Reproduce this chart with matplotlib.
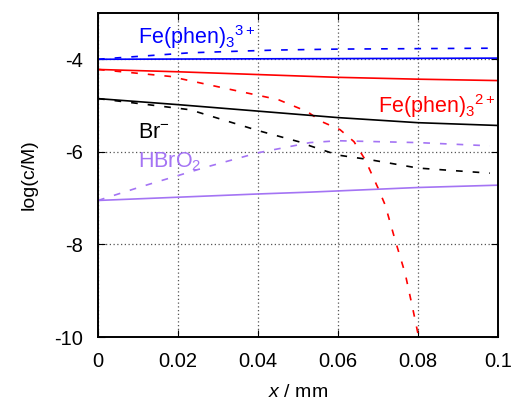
import matplotlib
matplotlib.use("Agg")
import matplotlib.pyplot as plt

plt.rcParams['font.family'] = ['Liberation Sans', 'DejaVu Sans']
plt.rcParams['mathtext.fontset'] = 'custom'
plt.rcParams['mathtext.rm'] = 'Liberation Sans'
plt.rcParams['mathtext.it'] = 'Liberation Sans:italic'
plt.rcParams['axes.unicode_minus'] = False

# values (x in mm, log10 of concentration)
x_fe3_solid = [0, 0.02, 0.04, 0.06, 0.08, 0.1]
fe3_solid = [-4.0, -3.995, -3.99, -3.985, -3.98, -3.975]
x_fe3_dash = [0, 0.003, 0.023, 0.037, 0.045, 0.06, 0.08, 0.1]
fe3_dash = [-4.0, -3.98, -3.86, -3.82, -3.80, -3.78, -3.77, -3.76]

x_fe2_solid = [0, 0.02, 0.04, 0.06, 0.08, 0.1]
fe2_solid = [-4.22, -4.27, -4.33, -4.39, -4.43, -4.46]
x_fe2_dash = [0, 0.018, 0.033, 0.045, 0.0523, 0.056, 0.0605, 0.064, 0.0668,
              0.070, 0.0718, 0.0743, 0.0768, 0.0788, 0.080, 0.0805]
fe2_dash = [-4.22, -4.37, -4.65, -4.87, -5.13, -5.35, -5.52, -5.78, -6.17,
            -6.78, -7.15, -7.91, -8.63, -9.43, -9.93, -10.2]

x_br_solid = [0, 0.02, 0.04, 0.06, 0.08, 0.1]
br_solid = [-4.85, -4.98, -5.12, -5.26, -5.37, -5.43]
x_br_dash = [0, 0.023, 0.037, 0.04, 0.051, 0.053, 0.06, 0.068, 0.08, 0.088, 0.098]
br_dash = [-4.85, -5.09, -5.46, -5.54, -5.80, -5.87, -6.07, -6.17, -6.35, -6.40, -6.46]

x_hbr_solid = [0, 0.02, 0.04, 0.053, 0.08, 0.1]
hbr_solid = [-7.05, -6.98, -6.91, -6.87, -6.77, -6.72]
x_hbr_dash = [0, 0.0105, 0.027, 0.04, 0.053, 0.06, 0.08, 0.098]
hbr_dash = [-7.05, -6.76, -6.33, -6.02, -5.80, -5.76, -5.80, -5.87]

blue = '#0000ff'
red = '#ff0000'
black = '#000000'
purple = '#a474f4'
dash = (0, (4, 6))

fig = plt.figure(figsize=(5.17, 4.01), dpi=100)
ax = fig.add_axes([0.1896, 0.1596, 0.9632 - 0.1896, 0.9676 - 0.1596])

ax.plot(x_fe3_solid, fe3_solid, color=blue, lw=1.2)
ax.plot(x_fe3_dash, fe3_dash, color=blue, lw=1.2, linestyle=dash)
ax.plot(x_fe2_solid, fe2_solid, color=red, lw=1.2)
ax.plot(x_fe2_dash, fe2_dash, color=red, lw=1.2, linestyle=dash)
ax.plot(x_br_solid, br_solid, color=black, lw=1.2)
ax.plot(x_br_dash, br_dash, color=black, lw=1.2, linestyle=dash)
ax.plot(x_hbr_solid, hbr_solid, color=purple, lw=1.2)
ax.plot(x_hbr_dash, hbr_dash, color=purple, lw=1.2, linestyle=dash)

ax.set_xlim(0, 0.1)
ax.set_ylim(-10, -3)
ax.set_xticks([0, 0.02, 0.04, 0.06, 0.08, 0.1])
ax.set_xticklabels(['0', '0.02', '0.04', '0.06', '0.08', '0.1'])
ax.set_yticks([-10, -8, -6, -4])
ax.tick_params(direction='in', top=True, right=True, labelsize=14.5, length=5)
ax.tick_params(axis='x', pad=11)
ax.tick_params(axis='y', pad=11)
ax.grid(True, color='#555555', linestyle=(0, (1, 2)), lw=0.9)
for s in ax.spines.values():
    s.set_linewidth(1.4)

ax.set_xlabel(r'$x$ / mm', fontsize=14, labelpad=9)
ax.set_ylabel('log(c/M)', fontsize=14, labelpad=12)

ax.text(0.0101, -3.68, r'Fe(phen)$_3$$^{3+}$', color=blue, fontsize=15.5,
        ha='left', va='baseline')
ax.text(0.0700, -5.15, r'Fe(phen)$_3$$^{2+}$', color=red, fontsize=15.5,
        ha='left', va='baseline')
ax.text(0.0101, -5.70, r'Br$^{-}$', color=black, fontsize=15.5,
        ha='left', va='baseline')
ax.text(0.0101, -6.33, r'HBrO$_2$', color=purple, fontsize=15.5,
        ha='left', va='baseline')

fig.savefig('out.png', dpi=100)
